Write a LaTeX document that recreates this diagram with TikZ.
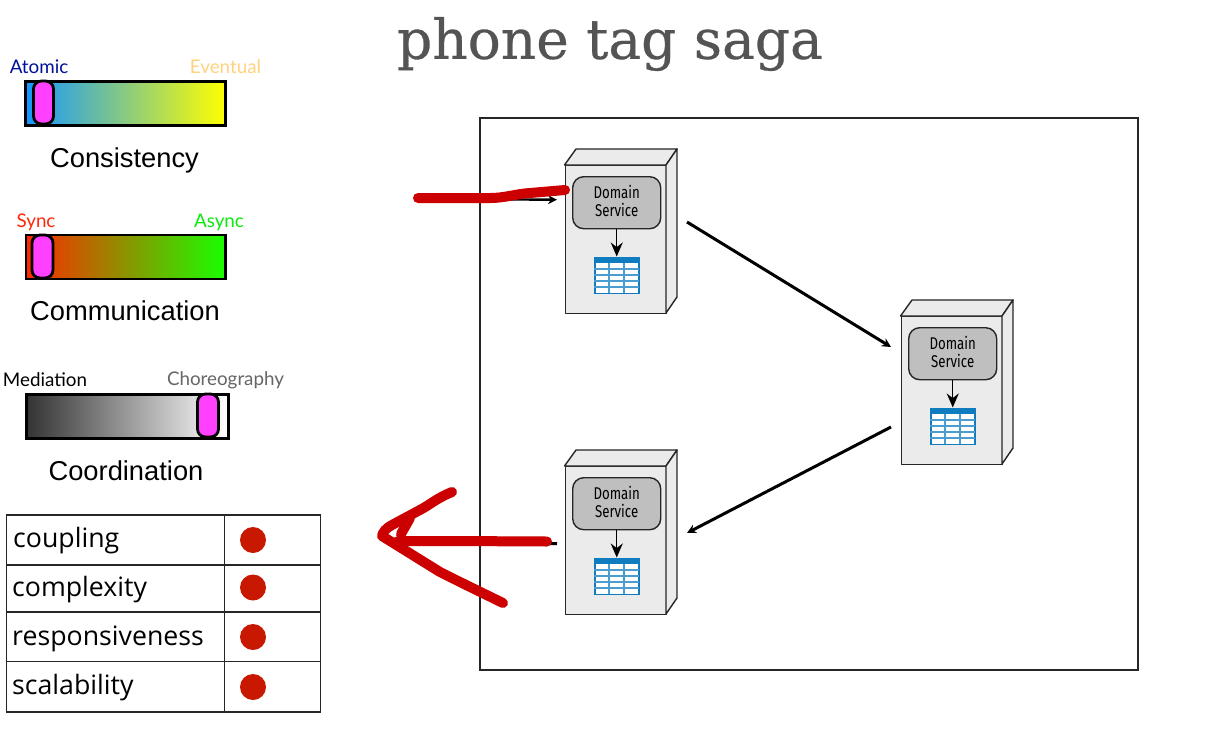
\documentclass[tikz,border=0pt]{standalone}
\usepackage{graphicx}
\usepackage{fontspec}
\setmainfont{Liberation Sans}
\newfontfamily\titlefont[FakeBold=0.5]{DejaVu Serif}
\newfontfamily\avfont{Lato}
\newfontfamily\tabfont{Open Sans}
\newfontfamily\svcfont{Fira Sans}
\usetikzlibrary{arrows.meta,calc}
\definecolor{redpen}{HTML}{CC0000}
\definecolor{pill}{HTML}{FF40FF}
\definecolor{dotred}{HTML}{C81800}
\definecolor{tblue}{HTML}{0F7CC0}
\tikzset{
  bar/.style={draw=black,line width=2.8pt,shading=axis,shading angle=90},
  pillbox/.style={draw=black,line width=2.8pt,fill=pill,rounded corners=8pt},
  endlabel/.style={font=\avfont\fontsize{18.8}{22}\selectfont,inner sep=0pt,anchor=center},
  barname/.style={font=\fontsize{27.3}{30}\selectfont,inner sep=0pt,anchor=center},
  rowlabel/.style={font=\tabfont\fontsize{26.7}{30}\selectfont,inner sep=0pt,anchor=base west},
  dot/.style={circle,fill=dotred,minimum size=26pt,inner sep=0pt},
  tbl/.style={draw=black!85,line width=1.3pt},
  pen/.style={draw=redpen,line width=10pt,line cap=round,line join=round},
  flow/.style={draw=black,line width=3pt,-{Stealth[length=9pt,width=9pt]}},
  servface/.style={draw=black!85,line width=1.4pt,fill=black!8,line join=round},
  svc/.style={draw=black!85,line width=1.4pt,fill=black!25,rounded corners=11pt,minimum width=88pt,minimum height=52pt,inner sep=0pt,align=center,font=\svcfont\fontsize{17}{18.5}\selectfont},
}
\newcommand{\serverunit}[3]{%
  \begin{scope}[shift={(#2,#3)}]
    \node[servface,minimum width=101.5pt,minimum height=148pt,inner sep=0pt,anchor=north west] (#1) at (564.5,165) {};
    \filldraw[servface] (564.5,165) -- (576,149) -- (677,149) -- (666,165) -- cycle;
    \filldraw[servface] (666,165) -- (677,149) -- (677,297) -- (666,313) -- cycle;
    \node[svc,anchor=north west] (#1svc) at (572,176) {\raisebox{4pt}{\scalebox{0.78}[1]{Domain}}\\\raisebox{4pt}{\scalebox{0.78}[1]{Service}}};
    \node[draw=tblue,line width=1.5pt,fill=white,minimum width=44pt,minimum height=36pt,inner sep=0pt,anchor=north west] (#1db) at (594,256.5) {};
    \fill[tblue] (594,256.5) rectangle (639,263);
    \foreach \yy in {269,275,281,287} \draw[tblue!75,line width=1.3pt] (594,\yy) -- (639,\yy);
    \foreach \xx in {609,624} \draw[tblue!75,line width=1.3pt] (\xx,263) -- (\xx,292.5);
    \draw[black,line width=1.4pt,-{Stealth[length=14pt,width=12pt]}] (#1svc.south -| #1db.north) -- (#1db.north);
  \end{scope}}
\begin{document}
\begin{tikzpicture}[x=1pt,y=-1pt]
\useasboundingbox (0,0) rectangle (1205,734);
\fill[white] (0,0) rectangle (1205,734);
\node[inner sep=0pt,text=black!67,font=\titlefont\fontsize{55}{60}\selectfont] (title) at (610,44) {phone tag saga};

% scales
\node[bar,left color={rgb,255:red,20;green,150;blue,255},right color=yellow,minimum width=199.5pt,minimum height=44pt,inner sep=0pt,anchor=north west] (consbar) at (24.3,80) {};
\node[pillbox,minimum width=20pt,minimum height=43pt,inner sep=0pt] (conspill) at (43.5,102.5) {};
\node[endlabel,text={rgb,255:red,0;green,18;blue,154}] (atomic) at (39,66.5) {Atomic};
\node[endlabel,text={rgb,255:red,255;green,210;blue,125}] (eventual) at (225.5,66.5) {Eventual};
\node[barname] (consname) at (124.5,160) {Consistency};

\node[bar,left color={rgb,255:red,255;green,40;blue,0},right color={rgb,255:red,25;green,255;blue,0},minimum width=199.5pt,minimum height=44pt,inner sep=0pt,anchor=north west] (commbar) at (24.5,233.5) {};
\node[pillbox,minimum width=21pt,minimum height=43pt,inner sep=0pt] (commpill) at (42.5,256.5) {};
\node[endlabel,text={rgb,255:red,255;green,40;blue,10}] (sync) at (36,222) {Sync};
\node[endlabel,text={rgb,255:red,10;green,235;blue,10}] (async) at (219,222) {Async};
\node[barname] (commname) at (125,311) {Communication};

\node[bar,left color=black!80,right color=white,minimum width=202pt,minimum height=44pt,inner sep=0pt,anchor=north west] (coorbar) at (24.7,393) {};
\node[pillbox,minimum width=21pt,minimum height=43pt,inner sep=0pt] (coorpill) at (208,415.5) {};
\node[endlabel,text=black] (mediation) at (45,380) {Mediation};
\node[endlabel,text=black!60] (choreo) at (225.5,380.5) {Choreography};
\node[barname] (coorname) at (126,471) {Coordination};

% table
\draw[tbl] (6.5,515) rectangle (320.5,712);
\draw[tbl] (224.3,515) -- (224.3,712);
\foreach \yy in {565,612,661.7} \draw[tbl] (6.5,\yy) -- (320.5,\yy);
\node[rowlabel] (rowa) at (13,547) {coupling};
\node[rowlabel] (rowb) at (12,596) {complexity};
\node[rowlabel] (rowc) at (12,645) {responsiveness};
\node[rowlabel] (rowd) at (12,694) {scalability};
\node[dot] (dota) at (253,540) {};
\node[dot] (dotb) at (253,587.5) {};
\node[dot] (dotc) at (253,637) {};
\node[dot] (dotd) at (253,687) {};

% system box
\draw[draw=black!85,line width=1.3pt] (480,118) rectangle (1138,670);

\serverunit{sa}{0}{0}
\serverunit{sb}{336}{151}
\serverunit{sc}{0}{301}

% connectors
\coordinate (inend) at (430,199);
\coordinate (outend) at (395,542);
\coordinate (aout) at (687,222);
\coordinate (bin) at (891,347);
\coordinate (bout) at (891,427);
\coordinate (cin) at (687,533);
\draw[black,line width=2.4pt,-{Stealth[length=9pt,width=9pt]}] (inend) -- ($(sa.west)+(-7.5,-40)$);
\draw[flow] (aout) -- (bin);
\draw[flow] (bout) -- (cin);
\draw[flow] ($(sc.west)+(-7.5,3)$) -- (outend);

% pen marks
\draw[pen] (418,198) -- (490,198) .. controls (505,198) and (515,194) .. (530,193) -- (565,190);
\draw[pen] (547,541.5) -- (450,541) -- (398,541);
\draw[pen] (452,492) .. controls (435,499) and (430,505) .. (418,511) -- (392,525) .. controls (385,529) and (383,532) .. (382,536) -- (440,572) -- (460,582) -- (503,603);
\draw[pen] (410,518) -- (401,534);
\end{tikzpicture}
\end{document}
